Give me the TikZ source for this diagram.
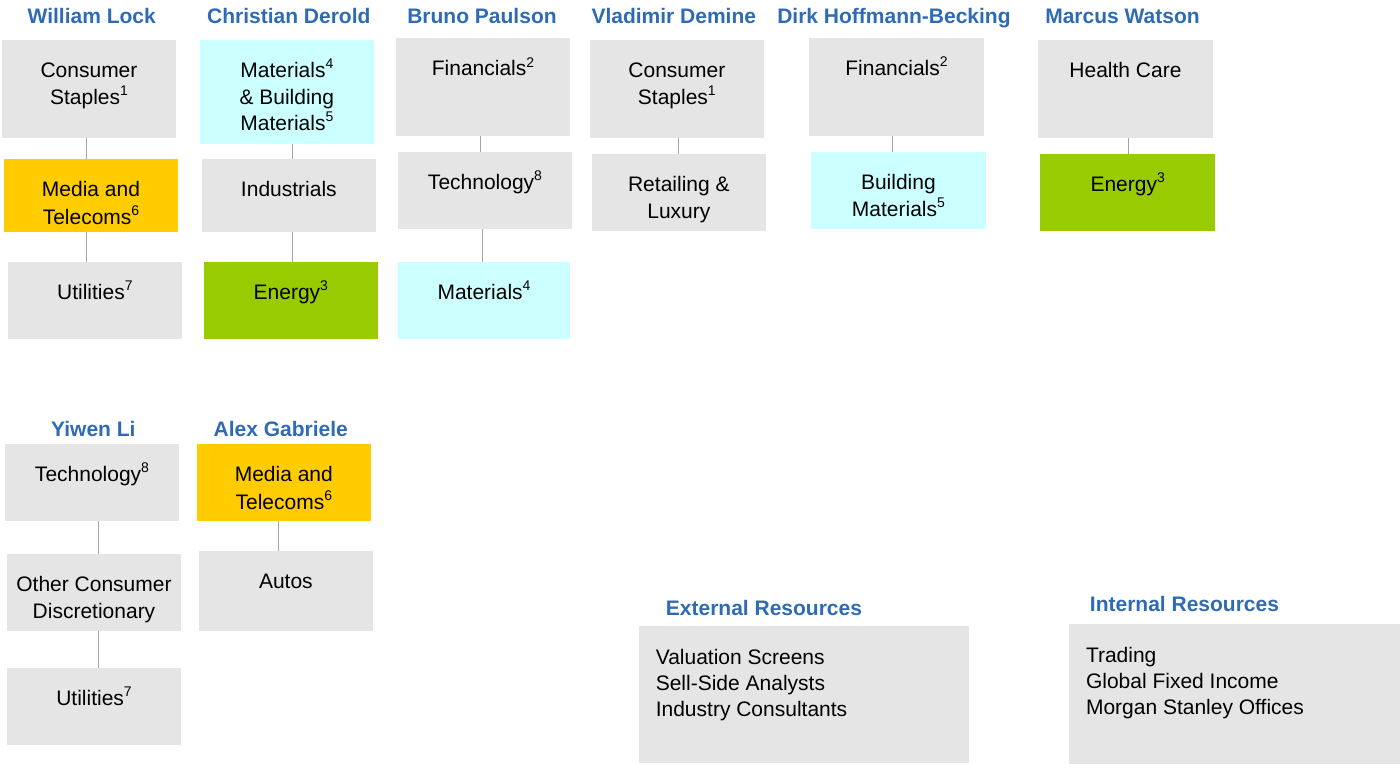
\documentclass[tikz,border=0pt]{standalone}
\usepackage{fontspec}
\usetikzlibrary{calc}
\setmainfont{Liberation Sans}
\definecolor{cellgray}{HTML}{E5E5E5}
\definecolor{mediagold}{HTML}{FFCC00}
\definecolor{energygreen}{HTML}{99CC00}
\definecolor{matcyan}{HTML}{CCFFFF}
\definecolor{nameblue}{HTML}{2F6BB5}
\definecolor{linkgray}{HTML}{A6A6A6}

\tikzset{
  cellbox/.style={inner sep=0pt, outer sep=0pt, anchor=north west,
    font=\fontsize{21}{26.5}\selectfont},
  analyst/.style={anchor=base, inner sep=0pt, text=nameblue,
    font=\fontsize{21}{25}\selectfont\bfseries},
  link/.style={draw=linkgray, line width=0.9pt},
}

% small raised footnote number
\newcommand\fnum[1]{\raisebox{0.42em}{\fontsize{14}{14}\selectfont #1}}

% sector cell: name, x1, y1, x2, y2, fill, text (centred, top aligned)
\newcommand\sectorcell[7]{%
  \pgfmathsetmacro\cw{#4-#2}\pgfmathsetmacro\ch{#5-#3}%
  \node[cellbox, fill=#6, minimum width=\cw pt, minimum height=\ch pt] (#1) at (#2,#3)
    {\parbox[c][\ch pt][t]{\cw pt}{\centering\vspace*{19pt}\strut #7}};}

% resource cell: name, x1, y1, x2, y2, text (left aligned list)
\newcommand\resourcecell[6]{%
  \pgfmathsetmacro\cw{#4-#2}\pgfmathsetmacro\ch{#5-#3}%
  \node[cellbox, fill=cellgray, minimum width=\cw pt, minimum height=\ch pt,
    font=\fontsize{21}{26}\selectfont] (#1) at (#2,#3)
    {\parbox[c][\ch pt][t]{\cw pt}{\raggedright\leftskip=17pt\vspace*{20pt}\strut #6}};}

\begin{document}
\begin{tikzpicture}[x=1pt, y=-1pt]
\useasboundingbox (0,0) rectangle (1400,764);

% analyst names
\node[analyst] (hwl) at (91.7,23.3) {William Lock};
\node[analyst] (hcd) at (288.8,23.3) {Christian Derold};
\node[analyst] (hbp) at (482,23.3) {Bruno Paulson};
\node[analyst] (hvd) at (673.8,23.3) {Vladimir Demine};
\node[analyst] (hdh) at (894,23.3) {Dirk Hoffmann-Becking};
\node[analyst] (hmw) at (1122.5,23.3) {Marcus Watson};
\node[analyst] (hyl) at (93.3,436) {Yiwen Li};
\node[analyst] (hag) at (280.8,436) {Alex Gabriele};
\node[analyst] (hext) at (764,615) {External Resources};
\node[analyst] (hint) at (1184.5,611) {Internal Resources};

% William Lock
\sectorcell{wl1}{2}{40}{176}{137.7}{cellgray}{Consumer\\Staples\fnum{1}}
\sectorcell{wl2}{4}{159.3}{178}{231.7}{mediagold}{Media and\\Telecoms\fnum{6}}
\sectorcell{wl3}{8}{262}{181.7}{338.7}{cellgray}{Utilities\fnum{7}}
% Christian Derold
\sectorcell{cd1}{200}{40}{373.7}{143.7}{matcyan}{Materials\fnum{4}\\\& Building\\Materials\fnum{5}}
\sectorcell{cd2}{202}{159}{375.7}{231.7}{cellgray}{Industrials}
\sectorcell{cd3}{204}{262}{377.7}{338.7}{energygreen}{Energy\fnum{3}}
% Bruno Paulson
\sectorcell{bp1}{396}{38.3}{570}{135.7}{cellgray}{Financials\fnum{2}}
\sectorcell{bp2}{398}{152}{572}{228.7}{cellgray}{Technology\fnum{8}}
\sectorcell{bp3}{398}{262}{570}{338.7}{matcyan}{Materials\fnum{4}}
% Vladimir Demine
\sectorcell{vd1}{590}{40.3}{763.7}{137.7}{cellgray}{Consumer\\Staples\fnum{1}}
\sectorcell{vd2}{592}{154}{765.7}{230.7}{cellgray}{Retailing \&\\Luxury}
% Dirk Hoffmann-Becking
\sectorcell{dh1}{809.2}{38}{983.8}{135.7}{cellgray}{Financials\fnum{2}}
\sectorcell{dh2}{811}{152}{985.8}{228.7}{matcyan}{Building\\Materials\fnum{5}}
% Marcus Watson
\sectorcell{mw1}{1038}{40}{1213}{137.7}{cellgray}{Health Care}
\sectorcell{mw2}{1040.4}{154}{1215}{230.7}{energygreen}{Energy\fnum{3}}
% Yiwen Li
\sectorcell{yl1}{5}{444}{179}{520.7}{cellgray}{Technology\fnum{8}}
\sectorcell{yl2}{7}{554}{181}{630.7}{cellgray}{Other Consumer\\Discretionary}
\sectorcell{yl3}{7}{668}{181}{744.7}{cellgray}{Utilities\fnum{7}}
% Alex Gabriele
\sectorcell{ag1}{197}{444}{370.7}{520.7}{mediagold}{Media and\\Telecoms\fnum{6}}
\sectorcell{ag2}{199}{551}{372.7}{630.7}{cellgray}{Autos}

% resources
\resourcecell{ext}{638.8}{626}{969.2}{762.7}{Valuation Screens\\Sell-Side Analysts\\Industry Consultants}
\resourcecell{int}{1069}{624}{1400}{764}{Trading\\Global Fixed Income\\Morgan Stanley Offices}

% connectors (upper cell / lower cell / horizontal offset from upper centre)
\foreach \a/\b/\d in {wl1/wl2/-2.3, wl2/wl3/-4.3, cd1/cd2/5.9, cd2/cd3/3.9,
                      bp1/bp2/-2.3, bp2/bp3/-2.3, vd1/vd2/1.5, dh1/dh2/-3.8,
                      mw1/mw2/2.5, yl1/yl2/6.3, yl2/yl3/4.3, ag1/ag2/-5.5}{
  \coordinate (\a-foot) at ($(\a.south)+(\d,0)$);
  \draw[link] (\a-foot) -- (\a-foot |- \b.north);
}
\end{tikzpicture}
\end{document}
